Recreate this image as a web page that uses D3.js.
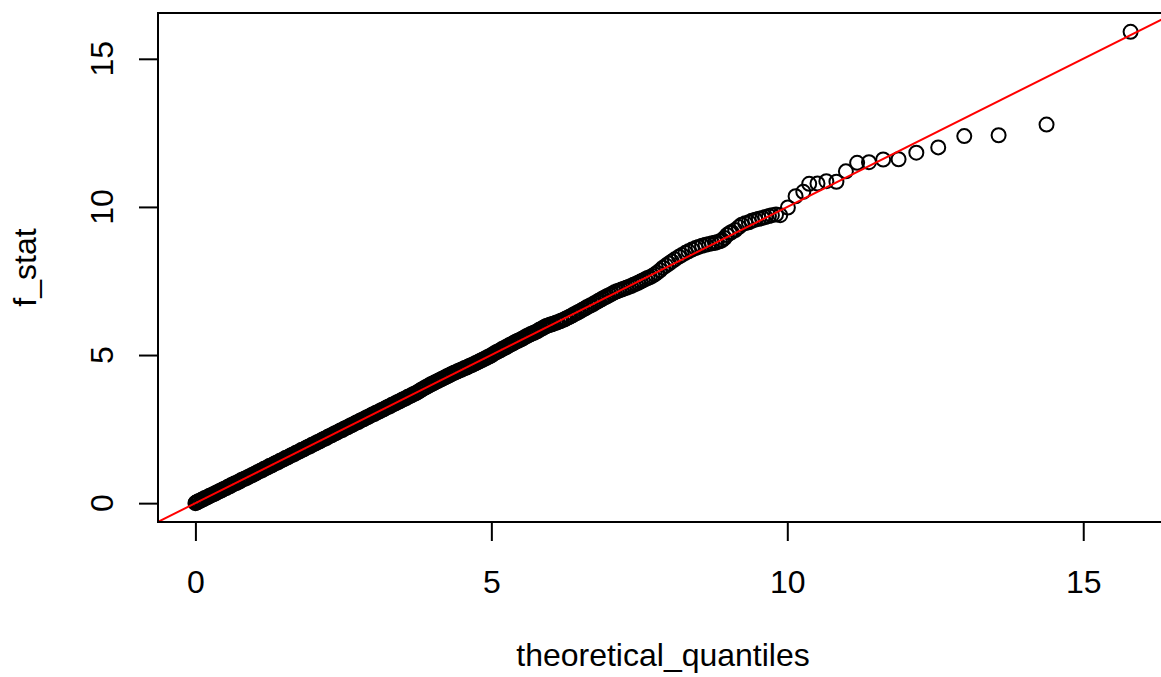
<!DOCTYPE html>
<html>
<head>
<meta charset="utf-8">
<script src="https://cdn.jsdelivr.net/npm/d3@7"></script>
<style>
  html, body { margin: 0; padding: 0; background: #ffffff; }
  svg { display: block; font-family: "Liberation Sans", Arial, Helvetica, sans-serif; }
</style>
</head>
<body>
<script>
// ---------------- data ----------------
const theoretical_quantiles = [
  0.00,0.01,0.03,0.04,0.06,0.09,0.11,0.14,0.16,0.19,0.22,0.24,0.27,0.30,0.33,0.35,0.38,0.41,0.44,0.46,0.49,0.52,0.55,0.58,0.60,0.63,0.66,0.69,0.72,0.75,0.77,0.80,0.83,0.86,0.89,0.92,0.95,0.98,
  1.01,1.04,1.07,1.10,1.13,1.16,1.19,1.22,1.25,1.28,1.31,1.34,1.37,1.40,1.43,1.46,1.49,1.52,1.55,1.58,1.61,1.64,1.67,1.70,1.73,1.76,1.79,1.82,1.85,1.88,1.91,1.94,1.97,
  2.00,2.03,2.06,2.09,2.12,2.15,2.18,2.21,2.24,2.27,2.30,2.33,2.36,2.39,2.42,2.45,2.48,2.51,2.54,2.57,2.60,2.63,2.66,2.69,2.72,2.75,2.78,2.81,2.84,2.87,2.90,2.93,2.96,2.99,
  3.02,3.05,3.08,3.11,3.14,3.17,3.20,3.23,3.26,3.29,3.32,3.35,3.38,3.41,3.44,3.47,3.50,3.53,3.56,3.59,3.62,3.65,3.68,3.71,3.74,3.77,3.80,3.83,3.86,3.89,3.92,3.95,3.98,
  4.01,4.04,4.07,4.10,4.13,4.16,4.19,4.22,4.25,4.28,4.31,4.34,4.37,4.40,4.43,4.46,4.49,4.52,4.55,4.58,4.61,4.64,4.67,4.70,4.73,4.76,4.79,4.82,4.85,4.88,4.91,4.94,4.97,
  5.00,5.03,5.06,5.09,5.12,5.15,5.18,5.21,5.24,5.27,5.30,5.33,5.36,5.39,5.42,5.45,5.48,5.51,5.54,5.57,5.60,5.63,5.66,5.69,5.72,5.75,5.78,5.81,5.84,5.87,5.90,5.93,5.96,5.99,
  6.02,6.05,6.09,6.12,6.16,6.19,6.23,6.26,6.30,6.33,6.37,6.40,6.44,6.47,6.51,6.54,6.58,6.61,6.65,6.68,6.72,6.75,6.79,6.82,6.86,6.89,6.93,6.96,
  7.00,7.04,7.08,7.12,7.16,7.20,7.24,7.28,7.32,7.36,7.40,7.44,7.48,7.52,7.56,7.60,7.64,7.68,7.72,7.76,7.80,7.85,7.90,7.95,
  8.00,8.05,8.10,8.17,8.22,8.28,8.33,8.39,8.45,8.50,8.56,8.62,8.68,8.73,8.78,8.81,8.86,8.90,8.94,8.98,
  9.03,9.06,9.12,9.18,9.23,9.29,9.35,9.40,9.46,9.52,9.58,9.63,9.69,9.74,9.81,9.88,
  10.01,10.14,10.27,10.37,10.51,10.66,10.83,10.99,11.18,11.38,11.62,11.88,12.18,12.55,12.99,13.57,14.38,15.80
];
const f_stat = [
  0.00,0.02,0.03,0.05,0.07,0.09,0.12,0.14,0.17,0.19,0.22,0.25,0.27,0.30,0.32,0.35,0.38,0.41,0.43,0.46,0.49,0.51,0.55,0.57,0.60,0.63,0.66,0.68,0.71,0.74,0.77,0.80,0.82,0.85,0.88,0.91,0.94,0.97,
  1.00,1.03,1.07,1.09,1.12,1.16,1.18,1.21,1.25,1.27,1.30,1.34,1.36,1.39,1.43,1.45,1.48,1.52,1.54,1.57,1.61,1.63,1.66,1.70,1.72,1.75,1.79,1.81,1.84,1.88,1.90,1.93,1.97,
  1.99,2.02,2.06,2.08,2.11,2.15,2.17,2.20,2.24,2.27,2.29,2.33,2.36,2.38,2.42,2.45,2.47,2.51,2.54,2.56,2.60,2.63,2.65,2.69,2.72,2.74,2.78,2.81,2.83,2.87,2.90,2.92,2.96,2.99,
  3.01,3.05,3.07,3.10,3.14,3.16,3.19,3.23,3.25,3.28,3.32,3.34,3.37,3.41,3.43,3.46,3.50,3.52,3.55,3.59,3.61,3.64,3.68,3.70,3.73,3.77,3.81,3.84,3.88,3.91,3.94,3.98,4.01,
  4.04,4.07,4.10,4.13,4.16,4.19,4.22,4.25,4.28,4.31,4.34,4.37,4.40,4.42,4.45,4.48,4.50,4.53,4.56,4.58,4.61,4.64,4.66,4.69,4.72,4.75,4.78,4.81,4.84,4.87,4.90,4.93,4.96,
  4.99,5.03,5.07,5.10,5.13,5.16,5.20,5.23,5.26,5.29,5.33,5.36,5.39,5.42,5.46,5.48,5.51,5.54,5.57,5.61,5.64,5.67,5.70,5.73,5.75,5.78,5.81,5.85,5.88,5.91,5.95,5.98,6.00,6.02,
  6.04,6.06,6.09,6.11,6.14,6.17,6.20,6.23,6.27,6.30,6.34,6.38,6.42,6.45,6.49,6.53,6.57,6.61,6.65,6.68,6.72,6.76,6.80,6.84,6.88,6.92,6.96,6.99,
  7.03,7.07,7.12,7.15,7.18,7.21,7.24,7.27,7.30,7.33,7.37,7.40,7.44,7.48,7.52,7.56,7.60,7.63,7.67,7.72,7.78,7.86,7.95,8.02,
  8.09,8.16,8.23,8.32,8.38,8.45,8.50,8.56,8.61,8.65,8.69,8.72,8.75,8.77,8.79,8.81,8.84,8.88,8.95,9.05,
  9.12,9.15,9.22,9.32,9.40,9.45,9.48,9.53,9.57,9.60,9.63,9.66,9.69,9.72,9.74,9.72,
  9.98,10.36,10.51,10.78,10.79,10.87,10.85,11.20,11.49,11.51,11.60,11.61,11.83,12.01,12.39,12.42,12.78,15.91
];
const xTicks = [0, 5, 10, 15];
const yTicks = [0, 5, 10, 15];
const xLabel = "theoretical_quantiles";
const yLabel = "f_stat";
const refLine = { intercept: 0, slope: 1 };

// ---------------- layout ----------------
const W = 1161, H = 677;
const plot = { left: 158, top: 13, right: 1168, bottom: 522 };
const fontSize = 32;

const points = theoretical_quantiles.map((q, i) => ({ q, f: f_stat[i] }));

// R-style 4% range extension
function ext(vals) {
  const [a, b] = d3.extent(vals);
  const r = b - a;
  return [a - 0.04 * r, b + 0.04 * r];
}
const xDom = ext(theoretical_quantiles);
const yDom = ext(f_stat);

const x = d3.scaleLinear().domain(xDom).range([plot.left, plot.right]);
const y = d3.scaleLinear().domain(yDom).range([plot.bottom, plot.top]);

const svg = d3.select("body").append("svg")
  .attr("width", W).attr("height", H)
  .style("font-size", fontSize + "px");

svg.append("defs").append("clipPath").attr("id", "clip")
  .append("rect")
  .attr("x", plot.left).attr("y", plot.top)
  .attr("width", plot.right - plot.left).attr("height", plot.bottom - plot.top);

const g = svg.append("g").attr("clip-path", "url(#clip)");

// points (open circles, pch = 1)
g.selectAll("circle.pt").data(points).join("circle")
  .attr("class", "pt")
  .attr("cx", d => x(d.q))
  .attr("cy", d => y(d.f))
  .attr("r", 7)
  .attr("fill", "none")
  .attr("stroke", "#000")
  .attr("stroke-width", 2);

// reference line (abline)
g.append("line")
  .attr("x1", x(xDom[0])).attr("y1", y(refLine.intercept + refLine.slope * xDom[0]))
  .attr("x2", x(xDom[1])).attr("y2", y(refLine.intercept + refLine.slope * xDom[1]))
  .attr("stroke", "#ff0000")
  .attr("stroke-width", 2);

// box
svg.append("rect")
  .attr("x", plot.left).attr("y", plot.top)
  .attr("width", plot.right - plot.left).attr("height", plot.bottom - plot.top)
  .attr("fill", "none").attr("stroke", "#000").attr("stroke-width", 2);

// x axis
const xAxis = svg.append("g")
  .attr("transform", `translate(0,${plot.bottom})`)
  .call(d3.axisBottom(x).tickValues(xTicks).tickSize(19).tickPadding(29).tickFormat(d3.format("d")));
xAxis.select(".domain").remove();
xAxis.selectAll(".tick line").attr("stroke", "#000").attr("stroke-width", 2);
xAxis.selectAll(".tick text")
  .attr("font-size", fontSize).attr("fill", "#000")
  .attr("font-family", "Liberation Sans, Arial, sans-serif");

// y axis (ticks) with rotated labels
const yAxis = svg.append("g")
  .attr("transform", `translate(${plot.left},0)`)
  .call(d3.axisLeft(y).tickValues(yTicks).tickSize(19).tickFormat(""));
yAxis.select(".domain").remove();
yAxis.selectAll(".tick line").attr("stroke", "#000").attr("stroke-width", 2);

svg.append("g").selectAll("text").data(yTicks).join("text")
  .attr("transform", d => `translate(113,${y(d)}) rotate(-90)`)
  .attr("text-anchor", "middle")
  .attr("fill", "#000")
  .text(d => d3.format("d")(d));

// axis titles
svg.append("text")
  .attr("x", (plot.left + plot.right) / 2)
  .attr("y", 666)
  .attr("text-anchor", "middle")
  .attr("fill", "#000")
  .text(xLabel);

svg.append("text")
  .attr("transform", `translate(36,${(plot.top + plot.bottom) / 2}) rotate(-90)`)
  .attr("text-anchor", "middle")
  .attr("fill", "#000")
  .text(yLabel);
</script>
</body>
</html>
